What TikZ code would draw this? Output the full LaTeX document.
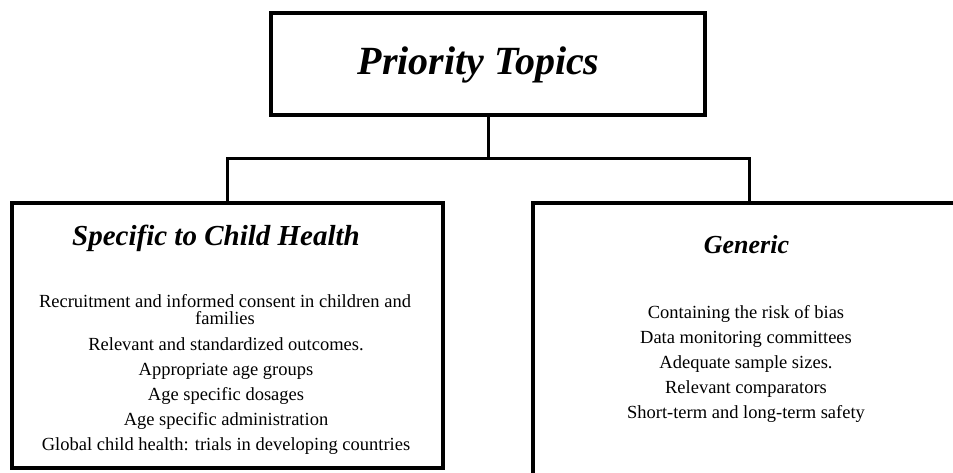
\documentclass[tikz,border=0pt]{standalone}
\usepackage{fontspec}
\setmainfont{Liberation Serif}

\begin{document}
\begin{tikzpicture}[x=1pt,y=-1pt,
    box/.style={draw,line width=4pt,inner sep=0pt},
    link/.style={line width=3pt},
    title/.style={font=\fontsize{40}{40}\selectfont\bfseries\itshape,anchor=base},
    head/.style={font=\fontsize{29}{29}\selectfont\bfseries\itshape,anchor=base},
    item/.style={font=\fontsize{18.5}{17}\selectfont,anchor=base,align=center}]
  \useasboundingbox (0,0) rectangle (953,473);
  \clip (0,0) rectangle (953,473);

  % boxes
  \node[box,minimum width=434pt,minimum height=102pt] (prio) at (488,64) {};
  \node[box,minimum width=431pt,minimum height=265pt] (child) at (227.5,335.5) {};
  \node[box,minimum width=432pt,minimum height=280pt] (generic) at (749,343) {};

  % tree lines
  \draw[link] (prio.south) -- ++(0,42) coordinate (split);
  \draw[link] (split) -| (child.north);
  \draw[link] (split) -| (generic.north);

  % headings
  \node[title] (ttl) at (478.5,75) {Priority Topics};
  \node[head] (childhead) at (216,245) {Specific to Child Health};
  \node[head,font=\fontsize{26}{26}\selectfont\bfseries\itshape] (generichead) at (746.5,253) {Generic};

  % child health topics
  \node[item] (c0) at (225,324) {Recruitment and informed consent in children and\\families};
  \foreach \txt [count=\i] in {Relevant and standardized outcomes.,
      Appropriate age groups, Age specific dosages,
      Age specific administration,
      Global child health: trials in developing countries}
    \node[item] (c\i) at (226,325+25*\i) {\txt};

  % generic topics
  \foreach \txt [count=\i] in {Containing the risk of bias,
      Data monitoring committees, Adequate sample sizes.,
      Relevant comparators, Short-term and long-term safety}
    \node[item] (g\i) at (746,293+25*\i) {\txt};
\end{tikzpicture}
\end{document}
